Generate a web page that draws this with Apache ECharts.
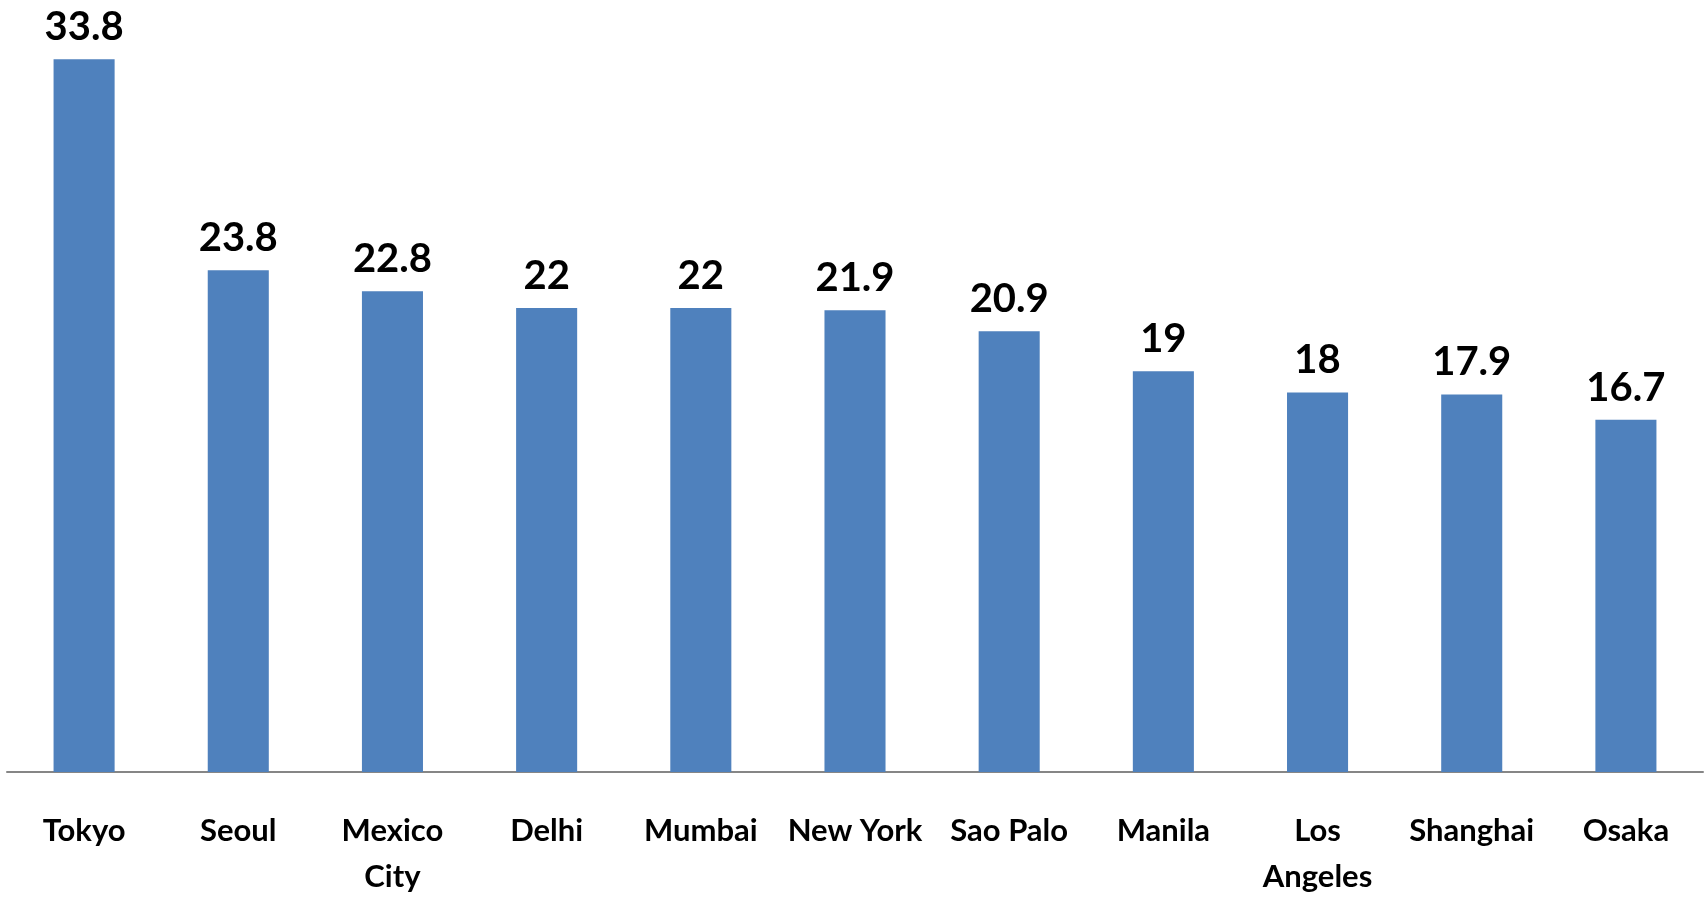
<!DOCTYPE html>
<html>
<head>
<meta charset="utf-8">
<script src="https://cdn.jsdelivr.net/npm/echarts@6/dist/echarts.min.js"></script>
<style>
  html, body { margin: 0; padding: 0; background: #fff; }
  #chart { width: 1708px; height: 898px; }
</style>
</head>
<body>
<div id="chart"></div>
<script>
const cities = ['Tokyo', 'Seoul', 'Mexico\nCity', 'Delhi', 'Mumbai', 'New York', 'Sao Palo', 'Manila', 'Los\nAngeles', 'Shanghai', 'Osaka']
const population = [33.8, 23.8, 22.8, 22, 22, 21.9, 20.9, 19, 18, 17.9, 16.7]

const chart = echarts.init( document.getElementById( 'chart' ) )

chart.setOption( {
  backgroundColor : '#ffffff',
  animation : false,
  grid : {
    left : 7,
    right : 5,
    top : 34,
    bottom : 126,
    containLabel : false,
    outerBoundsMode : 'none'
  },
  xAxis : {
    type : 'category',
    data : cities,
    axisLine : {
      show : true,
      lineStyle : { color : '#868686', width : 2 }
    },
    axisTick : { show : false },
    axisLabel : {
      interval : 0,
      margin : 36,
      color : '#000',
      fontFamily : 'Lato',
      fontWeight : 'bold',
      fontSize : 31,
      lineHeight : 46
    }
  },
  yAxis : {
    type : 'value',
    min : 0,
    max : 35,
    show : false,
    splitLine : { show : false }
  },
  series : [
    {
      type : 'bar',
      data : population,
      barWidth : '39.6%',
      itemStyle : { color : '#4F81BD' },
      label : {
        show : true,
        position : 'top',
        distance : 12,
        color : '#000',
        fontFamily : 'Lato',
        fontWeight : 'bold',
        fontSize : 40
      }
    }
  ]
} )
</script>
</body>
</html>
